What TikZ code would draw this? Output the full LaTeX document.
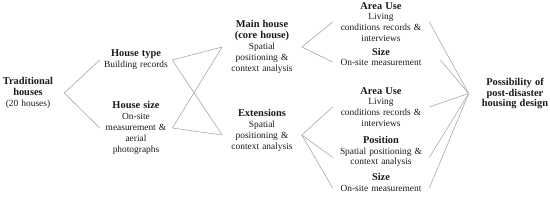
\documentclass[tikz,border=0pt]{standalone}
\usepackage{fontspec}
\setmainfont{Liberation Serif}
\usetikzlibrary{positioning}
\definecolor{cline}{HTML}{A8A8A8}
\definecolor{ctext}{HTML}{1A1A1A}
\tikzset{
  every picture/.style={line width=0.6pt},
  item/.style={align=center, inner sep=2pt, text width=#1, text=ctext, font=\fontsize{9.4}{10.8}\selectfont},
  item/.default=68pt,
  link/.style={draw=cline},
}
\newcommand{\hd}[1]{{\fontsize{10.4}{11}\selectfont\bfseries #1}}

\begin{document}
\begin{tikzpicture}[x=1pt, y=-1pt]
  \useasboundingbox (0,0) rectangle (550,202);
  % columns, left to right
  \node[item=68pt] (trad) at (28,93) {\hd{Traditional}\\\hd{houses}\\(20 houses)};
  \node[item=68pt] (type) at (136,60) {\hd{House type}\\Building records};
  \node[item=68pt] (hsize) at (136,128) {\hd{House size}\\On-site\\measurement \&\\aerial\\photographs};
  \node[item=75pt] (main) at (262,47) {\hd{Main house}\\\hd{(core house)}\\Spatial\\positioning \&\\context analysis};
  \node[item=75pt] (ext) at (262,130.5) {\hd{Extensions}\\Spatial\\positioning \&\\context analysis};
  \node[item=92pt] (marea) at (381,22) {\hd{Area Use}\\Living\\conditions records \&\\interviews};
  \node[item=92pt] (msize) at (381,57) {\hd{Size}\\On-site measurement};
  \node[item=92pt] (earea) at (381,107) {\hd{Area Use}\\Living\\conditions records \&\\interviews};
  \node[item=92pt] (epos) at (381,151.5) {\hd{Position}\\Spatial positioning \&\\context analysis};
  \node[item=92pt] (esize) at (381,182.5) {\hd{Size}\\On-site measurement};
  \node[item=88pt] (goal) at (515,93.5) {\hd{Possibility of}\\\hd{post-disaster}\\\hd{housing design}};
  % line ends that sit a little below the node centres
  \coordinate (ext-w) at ([yshift=-4.5pt]ext.west);
  \coordinate (ext-e) at ([yshift=-4.5pt]ext.east);
  \coordinate (msize-w) at ([yshift=-5pt]msize.west);
  \coordinate (msize-e) at ([xshift=11pt, yshift=-3pt]msize.east);
  \coordinate (epos-w) at ([yshift=-6pt]epos.west);
  \coordinate (epos-e) at ([yshift=-6pt]epos.east);
  \coordinate (esize-w) at ([yshift=-5.5pt]esize.west);
  \coordinate (esize-e) at ([yshift=-5.5pt]esize.east);
  \foreach \a/\b in {trad.east/type.west, trad.east/hsize.west,
      type.east/main.west, type.east/ext-w, hsize.east/main.west, hsize.east/ext-w,
      main.east/marea.west, main.east/msize-w,
      ext-e/earea.west, ext-e/epos-w, ext-e/esize-w,
      marea.east/goal.west, msize-e/goal.west, earea.east/goal.west,
      epos-e/goal.west, esize-e/goal.west}
    \draw[link] (\a) -- (\b);
\end{tikzpicture}
\end{document}
